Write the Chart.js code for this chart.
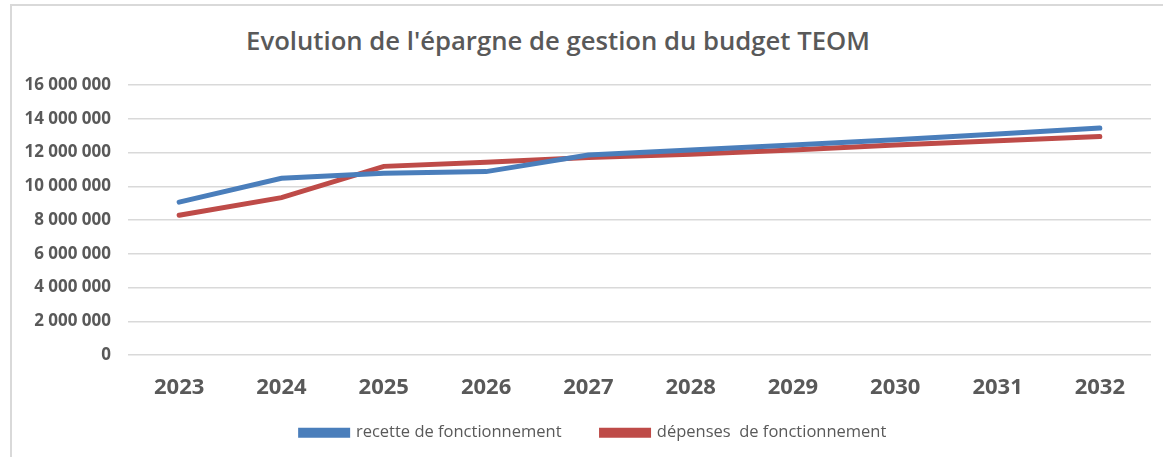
<!DOCTYPE html>
<html>
<head>
<meta charset="utf-8">
<script src="https://cdn.jsdelivr.net/npm/chart.js@4"></script>
<style>
  html, body { margin: 0; padding: 0; background: #fff; }
  #wrap { position: relative; width: 1163px; height: 457px; overflow: hidden; }
  #frame { position: absolute; left: 10px; top: 4px; width: 1170px; height: 470px;
           border-left: 2px solid #d9d9d9; border-top: 2px solid #d9d9d9; }
  #titre { position: absolute; left: 0; width: 1116px; top: 23px; text-align: center;
           font-family: "Open Sans", sans-serif; font-weight: 600; font-size: 25.7px; color: #595959; }
  canvas { position: absolute; left: 0; top: 0; }
</style>
</head>
<body>
<div id="wrap">
  <div id="frame"></div>
  <div id="titre">Evolution de l'épargne de gestion du budget TEOM</div>
  <canvas id="EpargneChart" width="1163" height="457"></canvas>
</div>
<script>
// annees et valeurs
var annees = ['2023', '2024', '2025', '2026', '2027', '2028', '2029', '2030', '2031', '2032'];
var recettes = [9060000, 10470000, 10770000, 10870000, 11850000, 12150000, 12450000, 12750000, 13100000, 13450000];
var depenses = [8280000, 9330000, 11180000, 11420000, 11700000, 11900000, 12150000, 12450000, 12700000, 12950000];
var yMax = 16000000;
var yPas = 2000000;

function formatNombre(v) {
  return String(v).replace(/\B(?=(\d{3})+(?!\d))/g, ' ');
}

var gris = '#595959';

// la legende garde un grand ecart entre les items mais prend moins de hauteur
var decalage = 35;
var legendeCompacte = {
  id: 'legendeCompacte',
  afterInit: function(chart) {
    var lg = chart.legend;
    var fitOrig = lg.fit;
    var drawOrig = lg.draw;
    lg.fit = function() {
      fitOrig.apply(this, arguments);
      this.height = this.height - decalage;
    };
    lg.draw = function() {
      this.top -= decalage; this.left += 18; this.right += 18;
      drawOrig.apply(this, arguments);
      this.top += decalage; this.left -= 18; this.right -= 18;
    };
  }
};

var ctx = document.getElementById('EpargneChart');
var EpargneChart = new Chart(ctx, {
  type: 'line',
  data: {
    labels: annees,
    datasets: [{
        label: 'recette de fonctionnement',
        data: recettes,
        borderColor: '#4a7ebb',
        backgroundColor: '#4a7ebb',
        borderWidth: 5,
        pointRadius: 0,
        tension: 0,
        borderCapStyle: 'round'
      },
      {
        label: 'dépenses  de fonctionnement',
        data: depenses,
        borderColor: '#be4b48',
        backgroundColor: '#be4b48',
        borderWidth: 5,
        pointRadius: 0,
        tension: 0,
        borderCapStyle: 'round'
      }
    ]
  },
  plugins: [legendeCompacte],
  options: {
    responsive: false,
    animation: false,
    layout: { padding: { top: 85, right: 12, left: 0, bottom: 6 } },
    plugins: {
      title: { display: false },
      tooltip: { enabled: false },
      legend: {
        position: 'bottom',
        labels: {
          color: gris,
          font: { family: 'Open Sans', size: 16.5 },
          boxWidth: 47,
          boxHeight: 5,
          padding: 40
        }
      }
    },
    scales: {
      x: {
        offset: true,
        grid: { display: false, drawTicks: false },
        border: { display: false },
        ticks: {
          color: gris,
          font: { family: 'Open Sans', size: 22, weight: 'bold' },
          padding: 19
        }
      },
      y: {
        min: 0,
        max: yMax,
        afterFit: function(scale) { scale.width = 128; },
        grid: { color: '#d9d9d9', lineWidth: 1.5, drawTicks: false },
        border: { display: false },
        ticks: {
          stepSize: yPas,
          color: gris,
          padding: 17,
          font: { family: 'Open Sans', size: 17, weight: 'bold' },
          callback: function(v) { return formatNombre(v); }
        }
      }
    }
  }
});
</script>
</body>
</html>
